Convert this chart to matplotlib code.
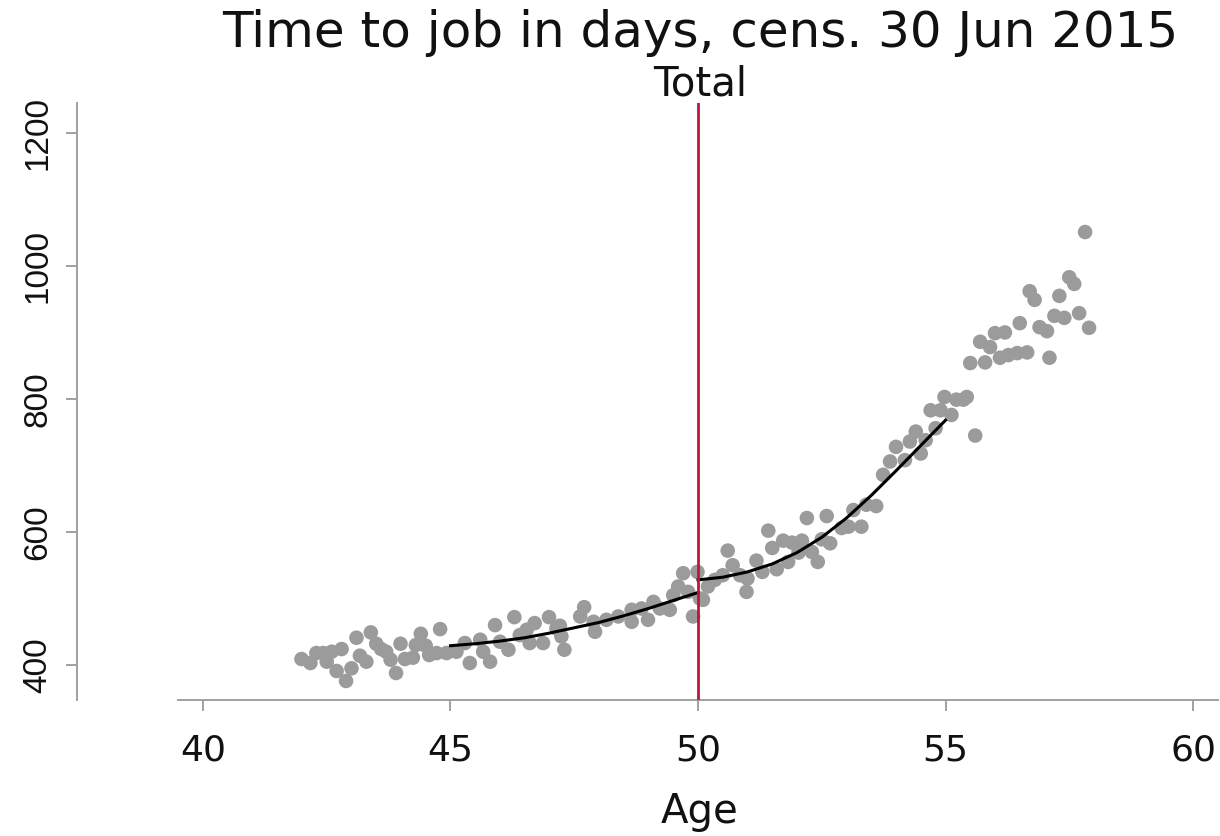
import matplotlib
matplotlib.use("Agg")
import matplotlib.pyplot as plt
import numpy as np

# ---- data ----
ages = [41.99, 42.17, 42.29, 42.43, 42.50, 42.60, 42.70, 42.80, 42.89, 43.00,
        43.10, 43.17, 43.30, 43.39, 43.50, 43.60, 43.70, 43.79, 43.90, 43.99,
        44.08, 44.24, 44.30, 44.40, 44.50, 44.57,
        44.72, 44.79, 44.92, 45.12, 45.29, 45.39, 45.60, 45.66, 45.80, 45.90,
        46.00, 46.17, 46.29, 46.40, 46.54, 46.60, 46.70, 46.87, 46.99, 47.14,
        47.24, 47.30,
        47.21, 47.62, 47.70, 47.89, 47.92, 48.15, 48.39, 48.66, 48.66, 48.86,
        48.99, 49.10, 49.23, 49.43, 49.50, 49.60, 49.70, 49.80, 49.90, 49.99,
        50.04,
        50.10, 50.20, 50.34, 50.50, 50.60, 50.70, 50.85, 50.98, 51.00, 51.18,
        51.30, 51.42, 51.50, 51.59, 51.72, 51.82, 51.90, 52.03, 52.10, 52.20,
        52.30, 52.42, 52.50, 52.60, 52.67,
        52.90, 53.04, 53.14, 53.30, 53.40, 53.60, 53.74, 53.88, 54.00, 54.18,
        54.28, 54.40, 54.50, 54.60, 54.70, 54.80, 54.90, 54.98, 55.12, 55.22,
        55.36, 55.43,
        55.60, 55.50, 55.70, 55.80, 55.90, 56.00, 56.10, 56.20, 56.27, 56.45,
        56.50, 56.65, 56.70, 56.80, 56.90, 57.05, 57.10, 57.20, 57.30, 57.40,
        57.50, 57.60, 57.70, 57.82, 57.90]
days = [409, 403, 418, 418, 405, 420, 391, 424, 376, 395,
        441, 414, 405, 449, 432, 424, 420, 408, 388, 432,
        409, 411, 430, 447, 429, 415,
        418, 454, 418, 420, 433, 403, 438, 420, 405, 460,
        435, 423, 472, 445, 453, 433, 463, 433, 472, 455,
        443, 423,
        459, 473, 487, 465, 450, 468, 473, 483, 465, 485,
        468, 495, 485, 483, 505, 518, 538, 510, 473, 540,
        500,
        498, 518, 528, 535, 572, 550, 535, 510, 530, 557,
        540, 602, 576, 544, 587, 555, 584, 569, 587, 621,
        570, 555, 589, 624, 583,
        606, 608, 633, 608, 641, 639, 686, 706, 728, 708,
        736, 751, 718, 738, 783, 756, 783, 803, 776, 799,
        799, 803,
        745, 854, 886, 855, 878, 899, 862, 900, 866, 869,
        914, 870, 962, 949, 908, 902, 862, 925, 955, 922,
        983, 973, 929, 1051, 907]

fit_left_age = [45.0, 45.5, 46.0, 46.5, 47.0, 47.5, 48.0, 48.5, 49.0, 49.5, 50.0]
fit_left_val = [429, 432, 436, 441, 448, 456, 464, 474, 485, 497, 509]
fit_right_age = [50.0, 50.5, 51.0, 51.5, 52.0, 52.5, 53.0, 53.5, 54.0, 54.5, 55.0]
fit_right_val = [528, 532, 540, 552, 569, 592, 621, 655, 692, 730, 768]

cutoff = 50
xticks = [40, 45, 50, 55, 60]
yticks = [400, 600, 800, 1000, 1200]

title = "Time to job in days, cens. 30 Jun 2015"
subtitle = "Total"
xlabel = "Age"

# ---- figure ----
W, H = 1220, 836
fig = plt.figure(figsize=(W / 100, H / 100), dpi=100)
ax = fig.add_axes([178 / W, 1 - 700 / H, (1218 - 178) / W, (700 - 103) / H])

ax.scatter(ages, days, s=110, color="#9b9b9b", edgecolors="none", zorder=2)
ax.plot(fit_left_age, fit_left_val, color="black", lw=2.2, zorder=3)
ax.plot(fit_right_age, fit_right_val, color="black", lw=2.2, zorder=3)
ax.axvline(cutoff, color="#c0143c", lw=2, zorder=4)

ax.set_xlim(39.495, 60.505)
ax.set_ylim(347.4, 1245)

for s in ["top", "right"]:
    ax.spines[s].set_visible(False)
ax.spines["left"].set_position(("outward", 72.7))
for s in ["left", "bottom"]:
    ax.spines[s].set_color("#a0a0a0")
    ax.spines[s].set_linewidth(1.4)

ax.set_xticks(xticks)
ax.set_yticks(yticks)
ax.tick_params(axis="both", color="#a0a0a0", width=1.4, length=8)
gfont = "DejaVu Sans"
ax.set_xticklabels([str(t) for t in xticks], fontsize=26, family=gfont, color="#111111")
ax.set_yticklabels([str(t) for t in yticks], fontsize=24, rotation=90, va="center",
                   family=["Liberation Sans Narrow", "Liberation Sans"], color="#111111")
ax.tick_params(axis="x", pad=16)
ax.tick_params(axis="y", pad=9)

fig.text(700 / W, 1 - 33 / H, title, ha="center", va="center", fontsize=36, family=gfont, color="#111111")
fig.text(700 / W, 1 - 85 / H, subtitle, ha="center", va="center", fontsize=29, family=gfont, color="#111111")
fig.text(700 / W, 1 - 812 / H, xlabel, ha="center", va="center", fontsize=29, family=gfont, color="#111111")

fig.savefig("out.png", dpi=100)
